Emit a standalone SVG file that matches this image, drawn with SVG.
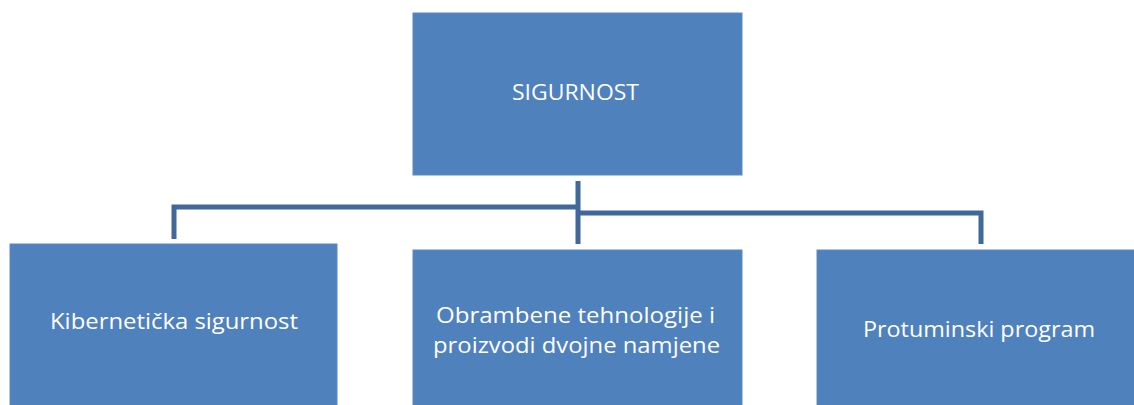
<svg xmlns="http://www.w3.org/2000/svg" width="1134" height="405" viewBox="0 0 1134 405">
<style>
.box{fill:#4F81BD;stroke:#5B8AC4;stroke-width:1}
.lbl{font-family:"Open Sans","Liberation Sans",sans-serif;font-size:22px;fill:#FFFFFF;text-anchor:start}
.con{fill:none;stroke:#41689A;stroke-width:5;stroke-linejoin:miter}
</style>
<rect width="1134" height="405" fill="#FFFFFF"/>
<g id="connectors">
<path class="con" d="M578 181 V244"/>
<path class="con" d="M174 239 V207 H578"/>
<path class="con" d="M578 213 H981 V244"/>
</g>
<g id="sigurnost">
<rect class="box" x="413" y="13" width="329" height="162"/>
<text class="lbl" x="512" y="100" font-size="23" textLength="127" lengthAdjust="spacingAndGlyphs">SIGURNOST</text>
</g>
<g id="kiberneticka">
<rect class="box" x="10" y="244" width="327" height="170"/>
<text class="lbl" x="50" y="329" textLength="248" lengthAdjust="spacingAndGlyphs">Kibernetička sigurnost</text>
</g>
<g id="obrambene">
<rect class="box" x="413" y="250" width="329" height="165"/>
<text class="lbl" x="436" y="323" textLength="279" lengthAdjust="spacingAndGlyphs">Obrambene tehnologije i</text>
<text class="lbl" x="433" y="353" textLength="287" lengthAdjust="spacingAndGlyphs">proizvodi dvojne namjene</text>
</g>
<g id="protuminski">
<rect class="box" x="817" y="250" width="330" height="165"/>
<text class="lbl" x="863" y="337" textLength="232" lengthAdjust="spacingAndGlyphs">Protuminski program</text>
</g>
</svg>
